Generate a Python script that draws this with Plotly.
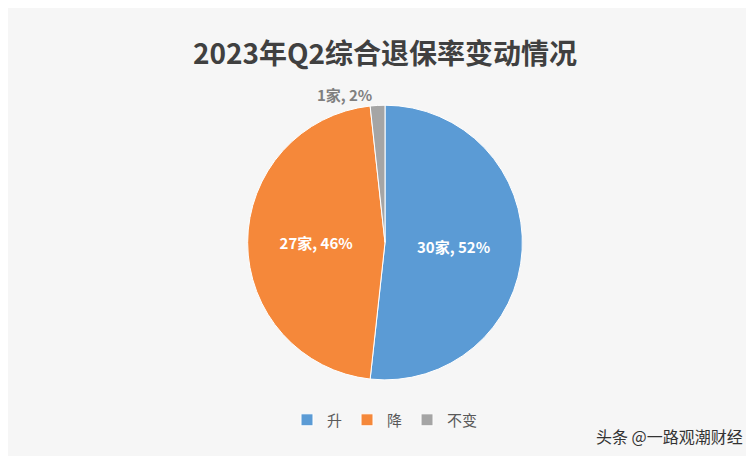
import plotly.graph_objects as go

labels = ["升", "降", "不变"]
counts = [30, 27, 1]
pct_labels = ["52%", "46%", "2%"]
colors = ["#5B9BD5", "#F5883A", "#A5A5A5"]

texts = [f"{c}家, {p}" for c, p in zip(counts, pct_labels)]

fig = go.Figure(go.Pie(
    labels=labels, values=counts, sort=False, direction="clockwise", rotation=0,
    marker=dict(colors=colors, line=dict(color="white", width=1)),
    text=texts, texttemplate="<b>%{text}</b>",
    textposition=["inside", "inside", "outside"],
    insidetextorientation="horizontal",
    textfont=dict(color=["white", "white", "#7F7F7F"], size=15, family="Noto Sans CJK SC"),
    domain=dict(x=[0.2, 0.8], y=[0.17, 0.8]),
))
fig.update_layout(
    width=754, height=456,
    paper_bgcolor="#F6F6F6",
    margin=dict(l=10, r=10, t=10, b=10),
    font=dict(family="Noto Sans CJK SC", color="#595959"),
    title=dict(text="<b>2023年Q2综合退保率变动情况</b>", x=0.5, y=0.92, xanchor="center",
               font=dict(size=28, color="#404040")),
    legend=dict(orientation="h", x=0.5, xanchor="center", y=0.04, yanchor="bottom",
                font=dict(size=15, color="#595959")),
    annotations=[dict(text="头条 @一路观潮财经", x=0.99, y=0.01, xref="paper", yref="paper",
                      xanchor="right", yanchor="bottom", showarrow=False,
                      font=dict(size=16, color="#333333"))],
)
fig.write_html("out.html")
